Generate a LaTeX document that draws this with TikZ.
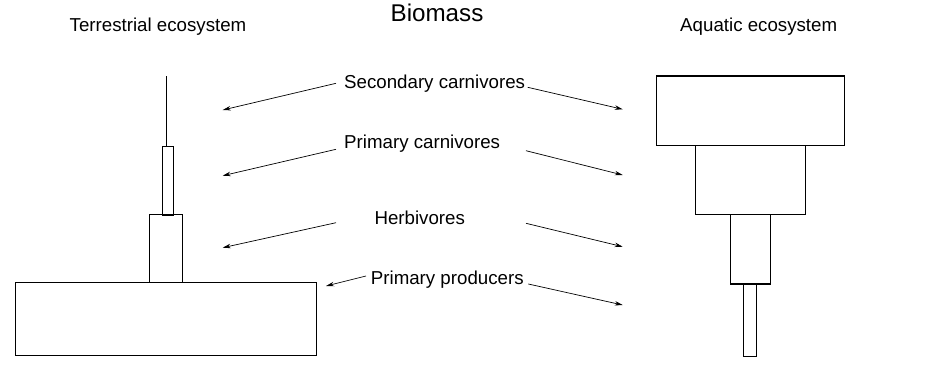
\documentclass[tikz,border=0pt]{standalone}
\usepackage{fontspec}
\setmainfont{Liberation Sans}
\usetikzlibrary{arrows.meta}
\begin{document}
\begin{tikzpicture}[x=1pt, y=-1pt, >={Stealth[length=8pt,width=4.5pt]},
  lbl/.style={anchor=base, inner sep=0pt, font=\fontsize{18.7}{22}\selectfont},
  arr/.style={->, line width=0.7pt},
  box/.style={line width=1.1pt}]
  \useasboundingbox (0,0) rectangle (933,380);
  % headings
  \node[lbl, font=\fontsize{24.2}{29}\selectfont] (biomass) at (437,21.7) {Biomass};
  \node[lbl] (terr) at (158,31) {Terrestrial ecosystem};
  \node[lbl] (aqua) at (758.7,31) {Aquatic ecosystem};
  % trophic levels
  \node[lbl, anchor=base west] (sc) at (344,88) {Secondary carnivores};
  \node[lbl, anchor=base west] (pc) at (344,148) {Primary carnivores};
  \node[lbl, anchor=base west] (hb) at (374.3,224) {Herbivores};
  \node[lbl, anchor=base west] (pp) at (370.7,284) {Primary producers};
  % terrestrial pyramid
  \draw[box] (166.7,76) -- (166.7,146.7);
  \draw[box] (162.3,146.7) rectangle (173.3,215.7);
  \draw[box] (149.7,214.7) rectangle (182.7,282.7);
  \draw[box] (15.7,282.7) rectangle (316.7,355.3);
  % aquatic pyramid
  \draw[box] (656.7,76) rectangle (844.3,145.7);
  \draw[box] (695.7,145.7) rectangle (805.7,214.7);
  \draw[box] (730.7,214.7) rectangle (770.7,284);
  \draw[box] (743.3,284) rectangle (756.7,356.3);
  % arrow ends
  \coordinate (scL) at (336,83.3);   \coordinate (scLt) at (222.7,110);
  \coordinate (pcL) at (336,149.3);  \coordinate (pcLt) at (222.7,175.7);
  \coordinate (hbL) at (336,222.7);  \coordinate (hbLt) at (222.7,247.7);
  \coordinate (ppL) at (366,276);    \coordinate (ppLt) at (326,286);
  \coordinate (scR) at (527.7,87.3); \coordinate (scRt) at (622.7,109.3);
  \coordinate (pcR) at (526,150.7);  \coordinate (pcRt) at (622.7,175);
  \coordinate (hbR) at (526,223.3);  \coordinate (hbRt) at (622.7,246.7);
  \coordinate (ppR) at (528.3,284);  \coordinate (ppRt) at (622.7,305);
  \draw[arr] (scL) -- (scLt);
  \draw[arr] (pcL) -- (pcLt);
  \draw[arr] (hbL) -- (hbLt);
  \draw[arr] (ppL) -- (ppLt);
  \draw[arr] (scR) -- (scRt);
  \draw[arr] (pcR) -- (pcRt);
  \draw[arr] (hbR) -- (hbRt);
  \draw[arr] (ppR) -- (ppRt);
\end{tikzpicture}
\end{document}
